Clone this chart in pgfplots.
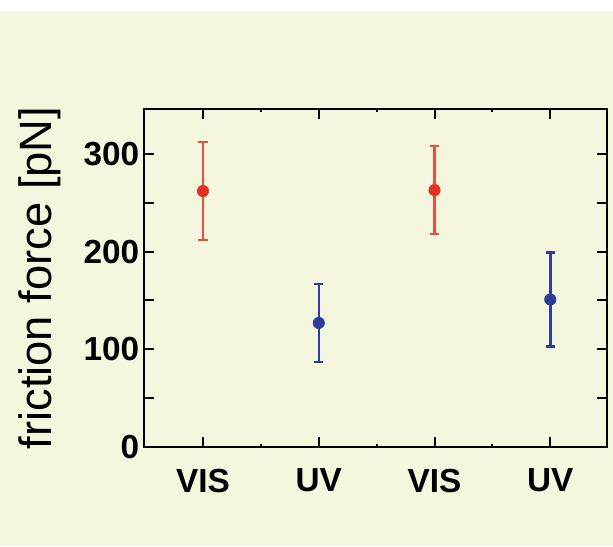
\documentclass[border=0pt]{standalone}
\usepackage{pgfplots}
\pgfplotsset{compat=1.18}
\usepackage{fontspec}
\setmainfont{Liberation Sans}
\definecolor{bgcream}{HTML}{F4F7DD}
\definecolor{visred}{HTML}{E5301F}
\definecolor{uvblue}{HTML}{2C3D9C}

\begin{document}
\begin{tikzpicture}
% page background (axis box lower left sits at the origin)
\fill[white] (-108pt,-74.25pt) rectangle (351.75pt,335.25pt);
\fill[bgcream] (-108pt,-74.25pt) rectangle (351.75pt,327pt);
\begin{axis}[
  scale only axis, width=347.25pt, height=253.5pt,
  xmin=0.49, xmax=4.49, ymin=0, ymax=346,
  xtick={1,2,3,4}, xticklabels={VIS,UV,VIS,UV},
  minor xtick={1.5,2.5,3.5},
  ytick={0,100,200,300},
  extra y ticks={50,150,250}, extra y tick labels={},
  tick align=inside, major tick length=7.5pt, minor tick length=2.5pt,
  axis line style={line width=2.2pt},
  every tick/.style={black, line width=1.5pt},
  ticklabel style={font=\fontsize{25}{30}\selectfont\bfseries},
  /pgf/number format/assume math mode=true,
  xticklabel style={yshift=-13pt},
  ylabel={friction force [pN]},
  ylabel style={font=\fontsize{34}{40}\selectfont, yshift=10pt},
  clip=false,
]
\addplot[only marks, mark=*, visred, mark size=4.3pt,
  error bars/.cd, y dir=both, y explicit,
  error bar style={line width=1.9pt, visred!85!white},
  error mark options={rotate=90, mark size=3.5pt, line width=1.9pt, visred!85!white}]
  coordinates {(1,262) +- (0,50) (3,263) +- (0,45)};
\addplot[only marks, mark=*, uvblue, mark size=4.3pt,
  error bars/.cd, y dir=both, y explicit,
  error bar style={line width=1.9pt},
  error mark options={rotate=90, mark size=3.5pt, line width=1.9pt}]
  coordinates {(2,127) +- (0,40) (4,151) +- (0,48)};
\end{axis}
\end{tikzpicture}
\end{document}
